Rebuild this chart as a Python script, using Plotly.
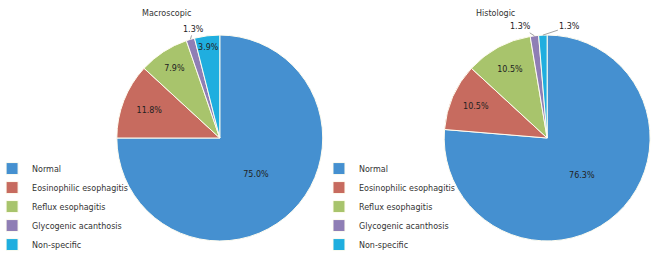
import math
import plotly.graph_objects as go

categories = ["Normal", "Eosinophilic esophagitis", "Reflux esophagitis",
              "Glycogenic acanthosis", "Non-specific"]
macroscopic_counts = [57, 9, 6, 1, 3]
histologic_counts = [58, 8, 8, 1, 1]
titles = ["Macroscopic", "Histologic"]

colors = ["#4590D0", "#C76B5F", "#A8C46C", "#8F7EB5", "#1FAEDF"]
FONT = "DejaVu Sans"
W, H = 660, 253

# label placement: inside, or outside with a leader line (pixel offsets of label)
macro_pos = ["inside", "inside", "inside", "outside", "inside"]
histo_pos = ["inside", "inside", "inside", "outside", "outside"]
macro_offsets = {3: (3, -10)}
histo_offsets = {3: (-14, -9), 4: (27, -9)}

domains = [dict(x=[0.177, 0.489], y=[0.047, 0.862]),
           dict(x=[0.673, 0.985], y=[0.047, 0.862])]

fig = go.Figure()
for i, (vals, pos, offs, dom, grp, leg) in enumerate([
        (macroscopic_counts, macro_pos, macro_offsets, domains[0], "macro", "legend"),
        (histologic_counts, histo_pos, histo_offsets, domains[1], "histo", "legend2")]):
    fig.add_trace(go.Pie(
        labels=categories, values=vals, sort=False, direction="clockwise",
        rotation=0, marker=dict(colors=colors, line=dict(color="#FFFDF0", width=1)),
        texttemplate="%{percent:.1%}",
        textposition=["inside" if p == "inside" else "none" for p in pos],
        insidetextorientation="horizontal",
        textfont=dict(family=FONT, size=8, color="#222222"),
        domain=dom, legend=leg, legendgroup=grp, showlegend=True,
        hoverinfo="label+percent", name=titles[i],
    ))
    # outside labels, anchored on the slice edge computed from the data
    total = sum(vals)
    cxp = (dom["x"][0] + dom["x"][1]) / 2
    cyp = (dom["y"][0] + dom["y"][1]) / 2
    r = 0.5 * min((dom["x"][1] - dom["x"][0]) * W, (dom["y"][1] - dom["y"][0]) * H)
    cum = 0
    for k, v in enumerate(vals):
        mid = (cum + v / 2) / total * 2 * math.pi
        cum += v
        if pos[k] != "outside":
            continue
        ex = cxp + r * math.sin(mid) / W
        ey = cyp + r * math.cos(mid) / H
        ax, ay = offs[k]
        fig.add_annotation(x=ex, y=ey, xref="paper", yref="paper",
                           text=f"{v / total * 100:.1f}%", showarrow=True,
                           arrowhead=0, arrowwidth=0.8, arrowcolor="#8a8a8a",
                           ax=ax, ay=ay, standoff=0, startstandoff=0,
                           font=dict(family=FONT, size=8, color="#222222"))

for t, xc in zip(titles, [166, 495]):
    fig.add_annotation(text=t, x=xc / W, y=1 - 13 / H, xref="paper", yref="paper",
                       xanchor="center", yanchor="middle", showarrow=False,
                       font=dict(family=FONT, size=8, color="#333333"))

legend_common = dict(font=dict(family=FONT, size=8, color="#333333"),
                     bgcolor="rgba(0,0,0,0)",
                     yanchor="bottom", y=-0.024,
                     xanchor="left", itemwidth=30, tracegroupgap=0)
fig.update_layout(
    width=W, height=H, margin=dict(l=0, r=0, t=0, b=0, autoexpand=False),
    paper_bgcolor="white", plot_bgcolor="white",
    legend=dict(x=-0.012, **legend_common),
    legend2=dict(x=0.4833, **legend_common),
)
fig.write_html("out.html", config={"displayModeBar": False},
               post_script="document.body.style.margin='0px';")
